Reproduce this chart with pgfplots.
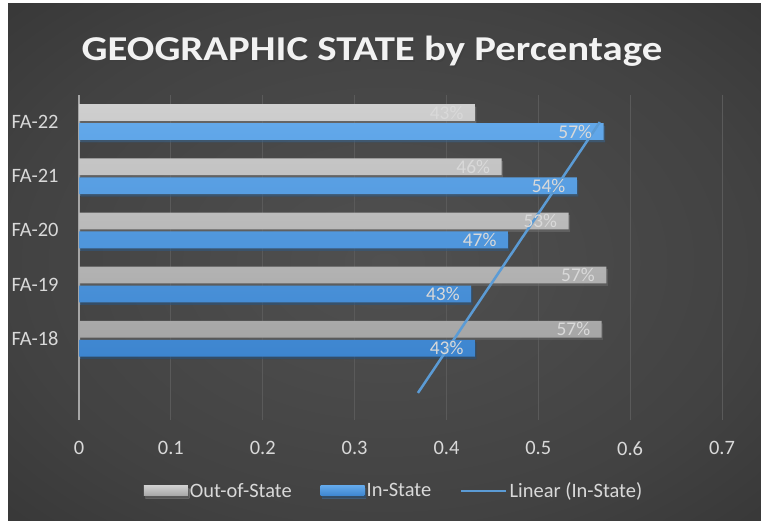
\documentclass[border=0pt]{standalone}
\usepackage{pgfplots}
\pgfplotsset{compat=1.18}
\usepackage{fontspec}
\setmainfont{Carlito}

\definecolor{bgcenter}{HTML}{505050}
\definecolor{bgmid}{HTML}{424242}
\definecolor{bgedge}{HTML}{2B2B2B}
\definecolor{graytop}{HTML}{CFCFCF}
\definecolor{graybot}{HTML}{A6A6A6}
\definecolor{bluetop}{HTML}{62A8EA}
\definecolor{bluebot}{HTML}{3D85CF}
\definecolor{trend}{HTML}{5B9BD5}
\definecolor{txt}{HTML}{D9D9D9}
\definecolor{gridc}{HTML}{5A5A5A}

\pgfdeclareradialshading{bgshade}{\pgfpoint{0bp}{0bp}}{%
  color(0bp)=(bgcenter); color(25bp)=(bgmid); color(50bp)=(bgedge)}

\pgfplotsset{
  barlegend/.style={legend image code/.code={\fill[##1] (0bp,-5bp) rectangle (44bp,5bp);}},
  linelegend/.style={legend image code/.code={\draw[##1] (0bp,0bp) -- (45bp,0bp);}},
  barlabels/.style={point meta=explicit symbolic, nodes near coords,
    every node near coord/.append style={anchor=east, xshift=-8bp, yshift=#1,
        font=\fontsize{19.5}{20}\selectfont, text=txt}},
  barshadow/.style={preaction={fill=black, fill opacity=0.35,
        transform canvas={shift={(1.5bp,-2.5bp)}}}},
}

\begin{document}
\begin{tikzpicture}[x=1bp,y=1bp]
\fill[white] (0,0) rectangle (761,521);
\shade[shading=bgshade] (8,0) rectangle (761,517);

% title with a soft shadow
\node[font=\fontsize{35}{38}\selectfont\bfseries, text=black!75, anchor=base, xscale=1.17]
  at (373.5,458.8) {GEOGRAPHIC STATE by Percentage};
\node[font=\fontsize{35}{38}\selectfont\bfseries, text=white!95!black, anchor=base, xscale=1.17]
  at (372,460.3) {GEOGRAPHIC STATE by Percentage};

\begin{axis}[
    at={(79bp,101bp)}, anchor=south west,
    scale only axis, width=643bp, height=325bp,
    xmin=0, xmax=0.7, ymin=-1.5, ymax=4.5,
    xtick={0,0.1,...,0.7},
    xticklabels={0,0.1,0.2,0.3,0.4,0.5,0.6,0.7},
    ytick={0,1,2,3,4},
    yticklabels={FA-18,FA-19,FA-20,FA-21,FA-22},
    major tick length=0pt,
    axis lines=left,
    axis line style={-},
    x axis line style={draw=none},
    y axis line style={draw=black!35, line width=1.2bp},
    xmajorgrids, major grid style={gridc, line width=0.8bp},
    ticklabel style={font=\fontsize{20.5}{22}\selectfont, text=txt},
    xticklabel style={yshift=-18bp},
    yticklabel style={xshift=-17bp},
    legend style={at={(0.49,-0.218)}, anchor=center, draw=none, fill=none,
        font=\fontsize{20.5}{22}\selectfont, text=txt,
        /tikz/every even column/.append style={column sep=27bp}},
    legend columns=3,
    legend cell align=left,
]
\addplot[xbar, bar width=0.31, bar shift=0.175, draw=none, barshadow,
    top color=graytop, bottom color=graybot, barlabels=9.5bp, barlegend]
coordinates {(0.569,0) [57\%] (0.574,1) [57\%] (0.533,2) [53\%] (0.46,3) [46\%] (0.431,4) [43\%]};
\addlegendentry{Out-of-State}
\addplot[xbar, bar width=0.31, bar shift=-0.175, draw=none, barshadow,
    top color=bluetop, bottom color=bluebot, barlabels=-9.5bp, barlegend]
coordinates {(0.431,0) [43\%] (0.427,1) [43\%] (0.467,2) [47\%] (0.542,3) [54\%] (0.571,4) [57\%]};
\addlegendentry{In-State}
\addplot[trend, line width=2.5bp, no marks, linelegend]
coordinates {(0.369,-1) (0.567,4)};
\addlegendentry{Linear (In-State)}
\end{axis}
\pgfresetboundingbox
\path (0,0) rectangle (761,521);
\end{tikzpicture}
\end{document}
